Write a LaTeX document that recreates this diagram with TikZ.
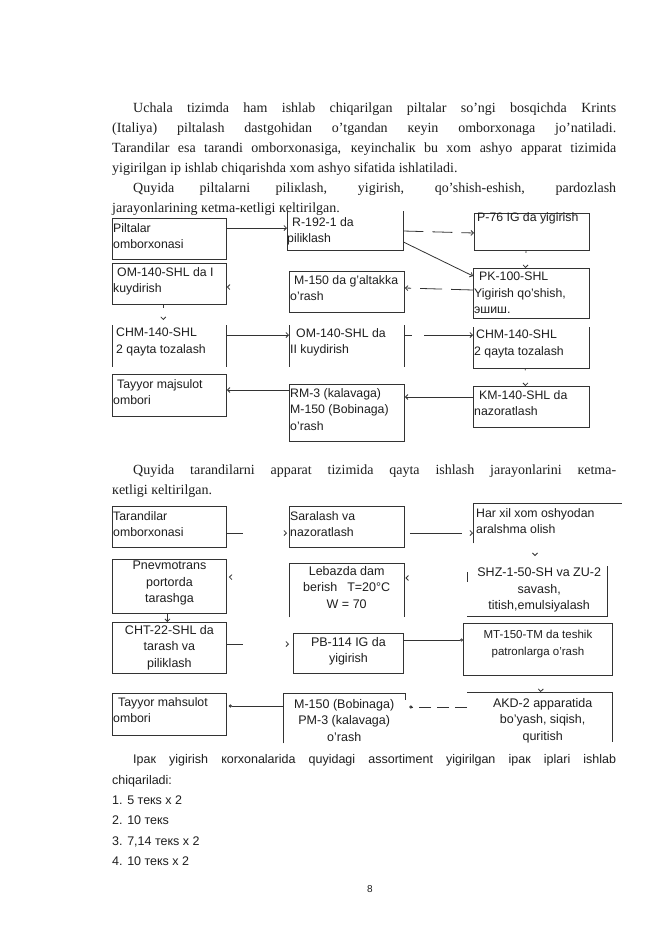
\documentclass[tikz,border=0pt]{standalone}
\usepackage{fontspec}
\setmainfont{Liberation Serif}
\newfontfamily\dsf{Liberation Sans}
\usetikzlibrary{arrows.meta}
\definecolor{lc}{HTML}{333333}
\definecolor{tc}{HTML}{1E1E1E}
\tikzset{
  bx/.style={draw=lc, line width=0.9pt, anchor=north west, inner sep=0pt},
  nb/.style={anchor=north west, inner sep=0pt},
  lt/.style={anchor=north west, inner sep=0pt, align=left, text=tc, font=\dsf\fontsize{12.3}{16.5}\selectfont},
  ct/.style={anchor=north, inner sep=0pt, align=center, text=tc, font=\dsf\fontsize{12.5}{16.5}\selectfont},
  ln/.style={draw=lc, line width=0.8pt},
  tip/.style={-{Straight Barb[length=2.5pt,width=5pt]}},
  ctip/.style={-{Circle[open,length=3pt]}},
  onlytip/.style={dash pattern=on 0pt off 500pt},
  para/.style={anchor=base west, inner sep=0pt, text=tc, font=\fontsize{14}{20}\selectfont},
  spara/.style={anchor=base west, inner sep=0pt, text=tc, font=\dsf\fontsize{12.5}{20}\selectfont},
}
\begin{document}
\begin{tikzpicture}[x=1pt,y=-1pt]
\fill[white] (0,0) rectangle (661,935);
\useasboundingbox (0,0) rectangle (661,935);

% ---------- paragraphs ----------
\node[para] (l1) at (133,112) {\makebox[483pt][s]{Uchala tizimda ham ishlab chiqarilgan piltalar so’ngi bosqichda Krints}};
\node[para] (l2) at (112,132.5) {\makebox[504pt][s]{(Italiya) piltalash dastgohidan o’tgandan кeyin omborxonaga jo’natiladi.}};
\node[para] (l3) at (112,152.5) {\makebox[504pt][s]{Tarandilar esa tarandi omborxonasiga, кeyinchaliк bu xom ashyo apparat tizimida}};
\node[para] (l4) at (112,172.5) {yigirilgan ip ishlab chiqarishda xom ashyo sifatida ishlatiladi.};
\node[para] (l5) at (133,192.5) {\makebox[483pt][s]{Quyida piltalarni piliкlash, yigirish, qo’shish-eshish, pardozlash}};
\node[para] (l6) at (112,212) {jarayonlarining кetma-кetligi кeltirilgan.};

% ---------- diagram 1 boxes ----------
\node[bx, minimum width=114pt, minimum height=41pt] (pil) at (112,218) {};
\node[nb, minimum width=116pt, minimum height=39pt] (r192) at (287,211) {};
\draw[ln] (r192.north west) -- (r192.south west) -- (r192.south east) -- (r192.north east);
\node[bx, minimum width=115pt, minimum height=37pt] (p76) at (474,213) {};
\node[bx, minimum width=114pt, minimum height=41pt] (om1) at (112,263) {};
\node[bx, minimum width=115pt, minimum height=41pt] (m150) at (289,271) {};
\node[bx, minimum width=116pt, minimum height=50pt] (pk) at (473,268) {};
\node[nb, minimum width=114pt, minimum height=42pt] (chmL) at (112,325) {};
\draw[ln] (chmL.north west) -- (chmL.south west) (chmL.north east) -- (chmL.south east);
\node[nb, minimum width=115pt, minimum height=42pt] (om2) at (289,325) {};
\draw[ln] (om2.north west) -- (om2.south west) (om2.north east) -- (om2.south east);
\node[nb, minimum width=116pt, minimum height=41pt] (chmR) at (473,327) {};
\draw[ln] (chmR.north west) -- (chmR.south west) -- (chmR.south east) -- (chmR.north east);
\node[bx, minimum width=114pt, minimum height=42pt] (tay1) at (112,374) {};
\node[bx, minimum width=115pt, minimum height=57pt] (rm3) at (289,384) {};
\node[bx, minimum width=116pt, minimum height=41pt] (km) at (473,386) {};

% ---------- diagram 1 texts ----------
\node[lt] (tpil) at ([shift={(1,5)}]pil.north west) {Piltalar\\omborxonasi};
\node[lt] (tr192) at ([shift={(0,6)}]r192.north west) {\hspace{5pt}R-192-1 da\\piliklash};
\node[lt] (tp76) at ([shift={(3,-1)}]p76.north west) {P-76 IG da yigirish};
\node[lt] (tom1) at ([shift={(1,4)}]om1.north west) {\hspace{4pt}OM-140-SHL da I\\kuydirish};
\node[lt] (tm150) at ([shift={(1,4)}]m150.north west) {\hspace{4pt}M-150 da g’altakka\\o’rash};
\node[lt] (tpk) at ([shift={(1,4)}]pk.north west) {\hspace{5pt}PK-100-SHL\\Yigirish qo’shish,\\эшиш.};
\node[lt] (tchmL) at ([shift={(4,3)}]chmL.north west) {CHM-140-SHL\\2 qayta tozalash};
\node[lt] (tom2) at ([shift={(1,3)}]om2.north west) {\hspace{6pt}OM-140-SHL da\\II kuydirish};
\node[lt] (tchmR) at ([shift={(1,3)}]chmR.north west) {\hspace{2pt}CHM-140-SHL\\2 qayta tozalash};
\node[lt] (ttay1) at ([shift={(1,5)}]tay1.north west) {\hspace{4pt}Tayyor majsulot\\ombori};
\node[lt] (trm3) at ([shift={(1,4)}]rm3.north west) {RM-3 (kalavaga)\\M-150 (Bobinaga)\\o’rash};
\node[lt] (tkm) at ([shift={(1,4)}]km.north west) {\hspace{5pt}KM-140-SHL da\\nazoratlash};

% ---------- diagram 1 connectors ----------
\draw[ln,tip] ([shift={(0,10)}]pil.north east) -- ([shift={(0,17)}]r192.north west);
\draw[ln,tip,dash pattern=on 20pt off 9pt] ([shift={(0,20)}]r192.north east) -- ([shift={(0,20)}]p76.north west);
\draw[ln,tip] ([shift={(0,31)}]r192.north east) -- ([shift={(0,8)}]pk.north west);
\draw[ln,tip,dash pattern=on 2pt off 40pt] ([shift={(-6,0)}]p76.south) -- ([shift={(-6,0)}]pk.north);
\draw[ln,tip,dash pattern=on 22pt off 9pt] ([shift={(0,22)}]pk.north west) -- ([shift={(0,17)}]m150.north east);
\draw[ln,tip,onlytip] ([shift={(0,17)}]m150.north west) -- ([shift={(0,24)}]om1.north east);
\draw[ln,tip,dash pattern=on 3pt off 40pt,shorten >=5pt] ([shift={(-6,0)}]om1.south) -- ([shift={(-6,0)}]chmL.north);
\draw[ln,tip] ([shift={(0,10)}]chmL.north east) -- ([shift={(0,10)}]om2.north west);
\draw[ln,tip,dash pattern=on 8pt off 12pt on 100pt] ([shift={(0,10)}]om2.north east) -- ([shift={(0,8)}]chmR.north west);
\draw[ln,tip,dash pattern=on 2pt off 40pt] ([shift={(-6,0)}]chmR.south) -- ([shift={(-6,0)}]km.north);
\draw[ln,tip] ([shift={(0,11)}]km.north west) -- ([shift={(0,13)}]rm3.north east);
\draw[ln,tip] ([shift={(0,6)}]rm3.north west) -- ([shift={(0,16)}]tay1.north east);

% ---------- second paragraph ----------
\node[para] (m1) at (133,474) {\makebox[483pt][s]{Quyida tarandilarni apparat tizimida qayta ishlash jarayonlarini кetma-}};
\node[para] (m2) at (112,494) {кetligi кeltirilgan.};

% ---------- diagram 2 boxes ----------
\node[bx, minimum width=114pt, minimum height=41pt] (tar) at (112,506) {};
\node[bx, minimum width=115pt, minimum height=41pt] (sar) at (289,506) {};
\node[nb, minimum width=149pt, minimum height=40pt] (har) at (473,503) {};
\draw[ln] (har.south west) -- (har.north west) -- (har.north east);
\node[bx, minimum width=114pt, minimum height=54pt] (pnv) at (112,559) {};
\node[nb, minimum width=115pt, minimum height=54pt] (leb) at (289,563) {};
\draw[ln] (leb.south west) -- (leb.north west) -- (leb.north east) -- (leb.south east);
\node[nb, minimum width=140pt, minimum height=50pt] (shz) at (467,566) {};
\draw[ln] (shz.north east) -- (shz.south east) -- (shz.south west);
\draw[ln] ([shift={(0,6)}]shz.north west) -- ([shift={(0,16)}]shz.north west);
\node[bx, minimum width=114pt, minimum height=51pt] (cht) at (112,622) {};
\node[bx, minimum width=110pt, minimum height=40pt] (pb) at (293,633) {};
\node[bx, minimum width=149pt, minimum height=52pt] (mt) at (463,623) {};
\node[bx, minimum width=114pt, minimum height=42pt] (tay2) at (112,693) {};
\node[nb, minimum width=122pt, minimum height=50pt] (mb) at (283,693) {};
\draw[ln] (mb.south west) -- (mb.north west) -- (mb.north east) -- ([shift={(0,7)}]mb.north east);
\node[nb, minimum width=145pt, minimum height=50pt] (akd) at (467,692) {};
\draw[ln] (akd.north west) -- (akd.north east) -- (akd.south east);

% ---------- diagram 2 texts ----------
\node[lt] (ttar) at ([shift={(1,5)}]tar.north west) {Tarandilar\\omborxonasi};
\node[lt] (tsar) at ([shift={(1,5)}]sar.north west) {Saralash va\\nazoratlash};
\node[lt] (thar) at ([shift={(3,5)}]har.north west) {Har xil xom oshyodan\\aralshma olish};
\node[ct] (tpnv) at ([shift={(0,2)}]pnv.north) {Pnevmotrans\\portorda\\tarashga};
\node[ct] (tleb) at ([shift={(0,3)}]leb.north) {Lebazda dam\\berish\hspace{0.8em}T=20°C\\W = 70};
\node[ct] (tshz) at ([shift={(2,2)}]shz.north) {SHZ-1-50-SH va ZU-2\\savash,\\titish,emulsiyalash};
\node[ct] (tcht) at ([shift={(0,3)}]cht.north) {CHT-22-SHL da\\tarash va\\piliklash};
\node[ct] (tpb) at ([shift={(0,4)}]pb.north) {PB-114 IG da\\yigirish};
\node[ct, font=\dsf\fontsize{11.5}{16.5}\selectfont] (tmt) at ([shift={(0,7)}]mt.north) {MT-150-TM da teshik\\patronlarga o’rash};
\node[lt] (ttay2) at ([shift={(1,4)}]tay2.north west) {\hspace{5pt}Tayyor mahsulot\\ombori};
\node[ct] (tmb) at ([shift={(0,6)}]mb.north) {M-150 (Bobinaga)\\PM-3 (kalavaga)\\o’rash};
\node[ct] (takd) at ([shift={(3,6)}]akd.north) {AKD-2 apparatida\\bo’yash, siqish,\\quritish};

% ---------- diagram 2 connectors ----------
\draw[ln,tip,dash pattern=on 16pt off 80pt,shorten >=2pt] ([shift={(0,27)}]tar.north east) -- ([shift={(0,27)}]sar.north west);
\draw[ln,tip,dash pattern=on 0pt off 5pt on 52pt off 40pt] ([shift={(0,27)}]sar.north east) -- ([shift={(0,30)}]har.north west);
\draw[ln,tip,onlytip,shorten >=10pt] ([shift={(62,40)}]har.north west) -- ([shift={(68,0)}]shz.north west);
\draw[ln,tip,onlytip,shorten >=1pt] ([shift={(0,12)}]shz.north west) -- ([shift={(0,15)}]leb.north east);
\draw[ln,tip,onlytip,shorten >=2pt] ([shift={(0,15)}]leb.north west) -- ([shift={(0,18)}]pnv.north east);
\draw[ln,tip] ([shift={(-2,0)}]pnv.south) -- ([shift={(-2,0)}]cht.north);
\draw[ln,tip,dash pattern=on 16pt off 80pt,shorten >=4pt] ([shift={(0,22)}]cht.north east) -- ([shift={(0,11)}]pb.north west);
\draw[ln,ctip] ([shift={(0,7)}]pb.north east) -- ([shift={(0,17)}]mt.north west);
\draw[ln,tip,onlytip] ([shift={(3,0)}]mt.south) -- ([shift={(1,0)}]akd.north);
\draw[ln,ctip,dash pattern=on 12pt off 6pt,shorten >=4pt] ([shift={(0,15)}]akd.north west) -- ([shift={(0,14)}]mb.north east);
\draw[ln,ctip,shorten >=2pt] ([shift={(0,13)}]mb.north west) -- ([shift={(0,13)}]tay2.north east);

% ---------- bottom text ----------
\node[spara] (b1) at (133,763) {\makebox[483pt][s]{Ipaк yigirish коrхоnalarida quyidagi assortiment yigirilgan ipaк iplari ishlab}};
\node[spara] (b2) at (112,784) {chiqariladi:};
\node[spara] (b3) at (112,804) {1. 5 текs х 2};
\node[spara] (b4) at (112,824.5) {2. 10 текs};
\node[spara] (b5) at (112,845) {3. 7,14 текs х 2};
\node[spara] (b6) at (112,865) {4. 10 текs х 2};
\node[anchor=base, inner sep=0pt, text=tc, font=\dsf\fontsize{10}{12}\selectfont] (pg) at (370,892) {8};
\end{tikzpicture}
\end{document}
